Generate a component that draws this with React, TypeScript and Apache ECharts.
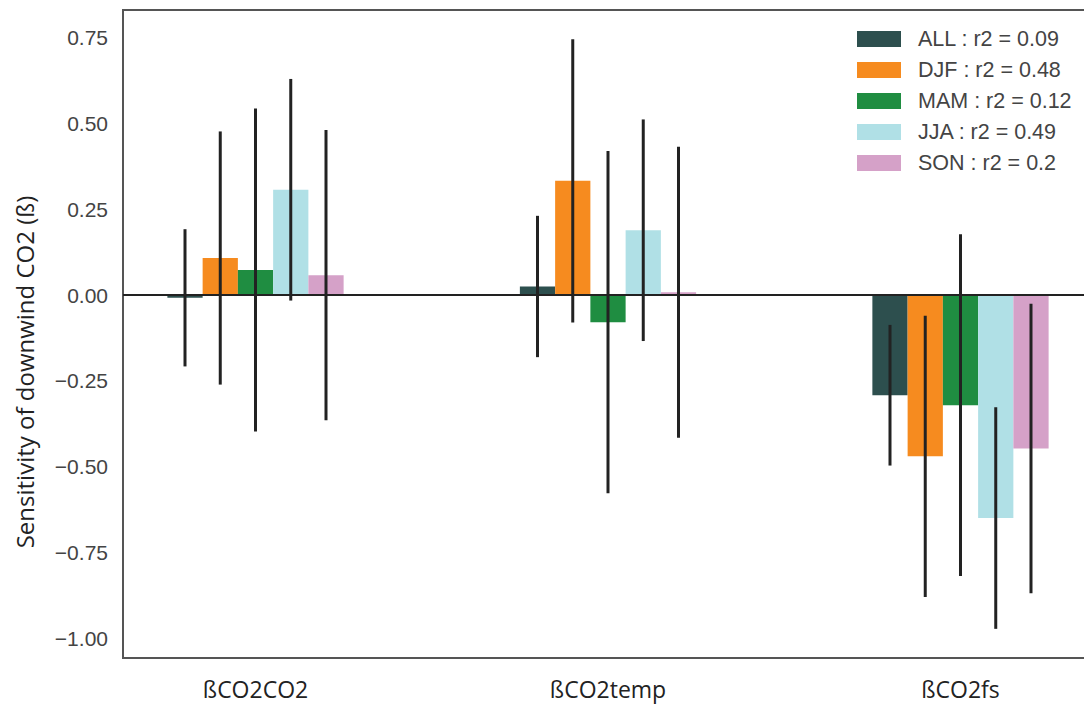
import React, { useEffect, useRef } from "react";
import * as echarts from "echarts";

// Regression coefficients per predictor, one array per season
const categories = ["ßCO2CO2", "ßCO2temp", "ßCO2fs"];
const seasons = ["ALL", "DJF", "MAM", "JJA", "SON"];
const r2Values = ["0.09", "0.48", "0.12", "0.49", "0.2"];

const allValues = [-0.008, 0.025, -0.292];
const djfValues = [0.108, 0.333, -0.47];
const mamValues = [0.073, -0.079, -0.321];
const jjaValues = [0.307, 0.189, -0.65];
const sonValues = [0.058, 0.008, -0.447];

// Half-length of the error bars
const allErrors = [0.2, 0.206, 0.205];
const djfErrors = [0.369, 0.413, 0.41];
const mamErrors = [0.471, 0.499, 0.498];
const jjaErrors = [0.323, 0.323, 0.323];
const sonErrors = [0.423, 0.424, 0.422];

const yTicks = [-1, -0.75, -0.5, -0.25, 0, 0.25, 0.5, 0.75];

const seasonColors = ["#2d4f4e", "#f68b1f", "#1f8d41", "#b0e0e6", "#d5a1c8"];
const seasonValues = [allValues, djfValues, mamValues, jjaValues, sonValues];
const seasonErrors = [allErrors, djfErrors, mamErrors, jjaErrors, sonErrors];

const BAR_W = 0.1;
const X_MIN = -0.3759;
const X_MAX = 2.3759;

function buildOption(): echarts.EChartsOption {
  const barSeries = seasons.map((name, s) => ({
    type: "custom" as const,
    name,
    z: 2,
    itemStyle: { color: seasonColors[s] },
    data: categories.map((_, c) => [c, seasonValues[s][c]]),
    renderItem: (_params: any, api: any) => {
      const cat = api.value(0) as number;
      const v = api.value(1) as number;
      const off = (s - 2) * BAR_W;
      const p0 = api.coord([cat + off - BAR_W / 2, 0]);
      const p1 = api.coord([cat + off + BAR_W / 2, v]);
      return {
        type: "rect",
        shape: {
          x: p0[0],
          y: Math.min(p0[1], p1[1]),
          width: p1[0] - p0[0],
          height: Math.abs(p1[1] - p0[1]),
        },
        style: { fill: seasonColors[s] },
      };
    },
  }));

  const errData: number[][] = [];
  seasons.forEach((_, s) => {
    categories.forEach((_, c) => {
      errData.push([c, s, seasonValues[s][c], seasonErrors[s][c]]);
    });
  });

  const errorSeries = {
    type: "custom" as const,
    name: "errors",
    z: 4,
    silent: true,
    data: errData,
    renderItem: (_params: any, api: any) => {
      const cat = api.value(0) as number;
      const s = api.value(1) as number;
      const v = api.value(2) as number;
      const e = api.value(3) as number;
      const x = cat + (s - 2) * BAR_W;
      const top = api.coord([x, v + e]);
      const bot = api.coord([x, v - e]);
      return {
        type: "line",
        shape: { x1: top[0], y1: top[1], x2: bot[0], y2: bot[1] },
        style: { stroke: "#222222", lineWidth: 3 },
      };
    },
  };

  const zeroLine = {
    type: "line" as const,
    name: "zero",
    z: 3,
    silent: true,
    symbol: "none",
    lineStyle: { color: "#222222", width: 2 },
    data: [
      [X_MIN, 0],
      [X_MAX, 0],
    ],
  };

  return {
    animation: false,
    backgroundColor: "#ffffff",
    grid: {
      left: 123,
      top: 10,
      width: 970,
      height: 648,
      outerBoundsMode: "none",
      containLabel: false,
      show: true,
      borderColor: "#555555",
      borderWidth: 2,
      backgroundColor: "transparent",
    } as any,
    xAxis: {
      type: "value",
      min: X_MIN,
      max: X_MAX,
      axisLine: { show: false },
      axisTick: { show: false },
      splitLine: { show: false },
      axisLabel: {
        customValues: [0, 1, 2],
        formatter: (v: number) => categories[Math.round(v)] ?? "",
        fontFamily: "Open Sans",
        fontSize: 23,
        color: "#222222",
        margin: 19,
      },
    },
    yAxis: {
      type: "value",
      min: -1.058,
      max: 0.831,
      axisLine: { show: false },
      axisTick: { show: false },
      splitLine: { show: false },
      axisLabel: {
        customValues: yTicks,
        formatter: (v: number) =>
          (v < 0 ? "\u2212" : "") + Math.abs(v).toFixed(2),
        fontFamily: "Liberation Sans",
        fontSize: 21,
        color: "#444444",
        margin: 15,
      },
    },
    legend: {
      orient: "vertical",
      left: 857,
      top: 28,
      padding: 0,
      itemWidth: 44,
      itemHeight: 16,
      itemGap: 9,
      icon: "rect",
      data: seasons.map((name, s) => ({
        name,
        itemStyle: { color: seasonColors[s] },
      })),
      formatter: (name: string) => `${name} : r2 = ${r2Values[seasons.indexOf(name)]}`,
      textStyle: {
        fontFamily: "Liberation Sans",
        fontSize: 21.5,
        lineHeight: 21,
        color: "#444444",
        padding: [0, 0, 0, 12],
      },
    },
    graphic: [
      {
        type: "text",
        x: 24,
        y: 372,
        rotation: Math.PI / 2,
        style: {
          text: "Sensitivity of downwind CO2 (ß)",
          fontFamily: "Open Sans",
          fontSize: 24,
          fill: "#222222",
          textAlign: "center",
          textVerticalAlign: "middle",
        },
      },
    ],
    series: [...barSeries, zeroLine, errorSeries] as any,
  };
}

export default function App() {
  const ref = useRef<HTMLDivElement>(null);
  useEffect(() => {
    if (!ref.current) return;
    const chart = echarts.init(ref.current, undefined, { renderer: "svg" });
    chart.setOption(buildOption());
    return () => chart.dispose();
  }, []);
  return (
    <div
      ref={ref}
      style={{
        position: "absolute",
        left: 0,
        top: 0,
        width: 1084,
        height: 707,
        background: "#ffffff",
      }}
    />
  );
}
